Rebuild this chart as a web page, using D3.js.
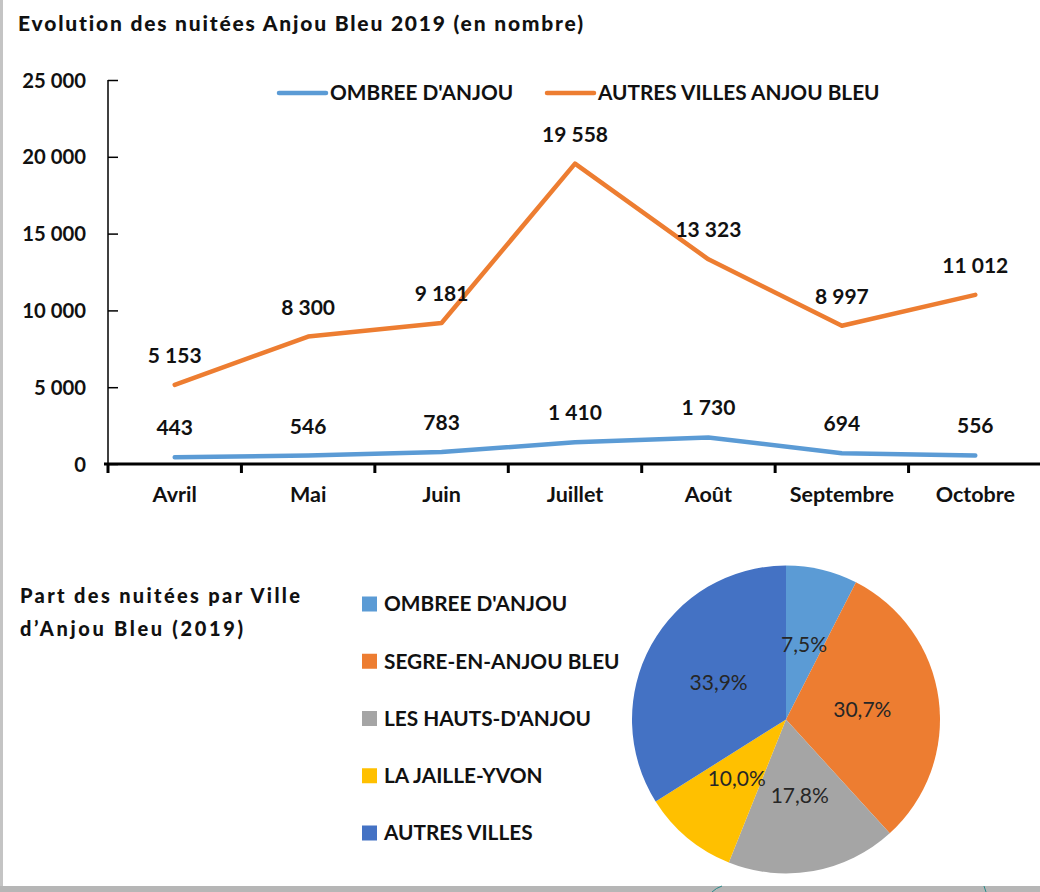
<!DOCTYPE html>
<html><head><meta charset="utf-8">
<script src="https://cdn.jsdelivr.net/npm/d3@7"></script>
<style>
html,body{margin:0;padding:0;background:#fff;}
svg{display:block;}
text{font-family:Lato,"Open Sans",sans-serif;font-variant-ligatures:none;font-feature-settings:"liga" 0,"clig" 0;}
</style></head>
<body>
<svg id="chart" width="1040" height="892"></svg>
<script>
// ---- data ----
const months = ["Avril","Mai","Juin","Juillet","Août","Septembre","Octobre"];
const ombree = [443,546,783,1410,1730,694,556];
const autres = [5153,8300,9181,19558,13323,8997,11012];
const lineSeriesNames = ["OMBREE D'ANJOU","AUTRES VILLES ANJOU BLEU"];
const yTicks = [0,5000,10000,15000,20000,25000];
const pieNames = ["OMBREE D'ANJOU","SEGRE-EN-ANJOU BLEU","LES HAUTS-D'ANJOU","LA JAILLE-YVON","AUTRES VILLES"];
const pieValues = [7.5,30.7,17.8,10.0,33.9];
const lineColors = ["#5B9BD5","#ED7D31"];
const pieColors = ["#5B9BD5","#ED7D31","#A5A5A5","#FFC000","#4472C4"];

const fr = d3.formatLocale({decimal:",",thousands:" ",grouping:[3],currency:["","€"]});
const fmtN = fr.format(",d");
const fmtP = fr.format(".1f");

const svg = d3.select("#chart");

// frame decoration
svg.append("rect").attr("x",0).attr("y",0).attr("width",3).attr("height",886).attr("fill","#c4c4c4");
svg.append("rect").attr("x",0).attr("y",886).attr("width",1040).attr("height",6).attr("fill","#b6b6b6");
svg.append("path").attr("d","M712,892 Q716,888 722,886").attr("stroke","#2a8a8a").attr("fill","none").attr("stroke-width",1);
svg.append("path").attr("d","M984,886 L986,892").attr("stroke","#2a8a8a").attr("fill","none").attr("stroke-width",1);

// title
svg.append("text").attr("x",18).attr("y",31)
  .attr("font-size",21).attr("font-weight",900).attr("fill","#111")
  .attr("textLength",565).attr("lengthAdjust","spacing")
  .text("Evolution des nuitées Anjou Bleu 2019 (en nombre)");

// ---- line chart ----
const x = d3.scaleBand().domain(months).range([108,1042]).paddingInner(0).paddingOuter(0);
const y = d3.scaleLinear().domain([0,25000]).range([464,80]);

// y axis
const yAxis = svg.append("g").attr("transform","translate(108,0)")
  .call(d3.axisRight(y).tickValues(yTicks).tickSize(10).tickFormat(fmtN));
yAxis.select(".domain").attr("stroke","#000").attr("stroke-width",1.5).attr("d","M0,80V464");
yAxis.selectAll(".tick line").attr("stroke","#000").attr("stroke-width",1.5);
yAxis.selectAll(".tick text").attr("x",-22).attr("text-anchor","end")
  .attr("font-size",20.3).attr("font-weight",700).attr("fill","#111").attr("font-family","Lato").attr("dy","0.35em");

// x axis
const xAxis = svg.append("g").attr("transform","translate(0,464)")
  .call(d3.axisBottom(x).tickSize(0).tickPadding(0));
xAxis.select(".domain").remove();
xAxis.append("line").attr("x1",104).attr("x2",1040).attr("y1",0).attr("y2",0).attr("stroke","#000").attr("stroke-width",3);
const edges = months.map(m=>x(m)).concat([x(months[months.length-1])+x.bandwidth()]);
xAxis.selectAll(".edge").data(edges).enter().append("line").attr("class","edge")
  .attr("x1",d=>d).attr("x2",d=>d).attr("y1",0).attr("y2",9).attr("stroke","#000").attr("stroke-width",3);
xAxis.selectAll(".tick text").attr("x",0).attr("y",38)
  .attr("dy",0).attr("font-size",21.5).attr("font-weight",700).attr("fill","#111").attr("font-family","Lato");

// lines
const line = d3.line().x((d,i)=>x(months[i])+x.bandwidth()/2).y(d=>y(d));
[ombree,autres].forEach((s,k)=>{
  svg.append("path").datum(s).attr("d",line).attr("fill","none")
    .attr("stroke",lineColors[k]).attr("stroke-width",4.5).attr("stroke-linecap","round").attr("stroke-linejoin","round");
  svg.selectAll(".lbl"+k).data(s).enter().append("text").attr("class","lbl"+k)
    .attr("x",(d,i)=>x(months[i])+x.bandwidth()/2).attr("y",d=>y(d)-22)
    .attr("text-anchor","middle").attr("font-size",21).attr("font-weight",700).attr("fill","#111")
    .text(d=>fmtN(d));
});

// line legend
const legX = [279,547];
lineSeriesNames.forEach((n,k)=>{
  svg.append("line").attr("x1",legX[k]).attr("x2",legX[k]+47).attr("y1",93).attr("y2",93)
    .attr("stroke",lineColors[k]).attr("stroke-width",4.5).attr("stroke-linecap","round");
  svg.append("text").attr("x",legX[k]+51).attr("y",93).attr("dy","0.35em")
    .attr("font-size",20.8).attr("font-weight",700).attr("fill","#111").text(n);
});

// ---- pie section ----
const t2 = svg.append("text").attr("font-size",20).attr("font-weight",900).attr("fill","#111");
t2.append("tspan").attr("x",20).attr("y",603).attr("textLength",280).attr("lengthAdjust","spacing").text("Part des nuitées par Ville");
t2.append("tspan").attr("x",20).attr("y",636).attr("textLength",223).attr("lengthAdjust","spacing").text("d\u2019Anjou Bleu (2019)");

// pie legend
const legY = d3.scalePoint().domain(pieNames).range([604,833]);
pieNames.forEach((n,k)=>{
  svg.append("rect").attr("x",362).attr("y",legY(n)-7.5).attr("width",15).attr("height",15).attr("fill",pieColors[k]);
  svg.append("text").attr("x",384).attr("y",legY(n)).attr("dy","0.35em")
    .attr("font-size",20.8).attr("font-weight",700).attr("fill","#111").text(n);
});

const cx=786, cy=719.5, R=154;
const pie = d3.pie().sort(null).value(d=>d);
const arcs = pie(pieValues);
const arc = d3.arc().innerRadius(0).outerRadius(R);
const lab = d3.arc().innerRadius(R*0.5).outerRadius(R*0.5);
const pg = svg.append("g").attr("transform",`translate(${cx},${cy})`);
pg.selectAll("path").data(arcs).enter().append("path").attr("d",arc).attr("fill",(d,i)=>pieColors[i]);
pg.selectAll("text").data(arcs).enter().append("text")
  .attr("transform",d=>`translate(${lab.centroid(d)})`).attr("text-anchor","middle").attr("dy","0.35em")
  .attr("font-size",21).attr("fill","#262626").text(d=>fmtP(d.data)+"%");
</script>
</body></html>
